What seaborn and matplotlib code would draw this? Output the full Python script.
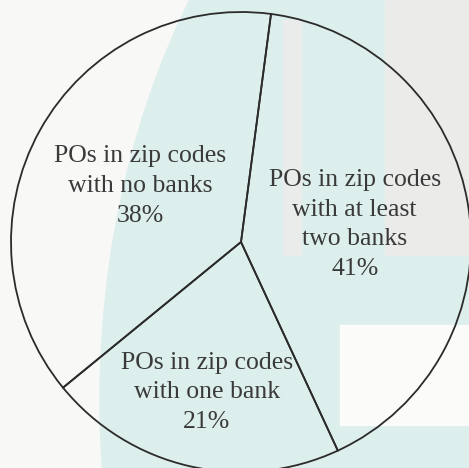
import numpy as np
import matplotlib
matplotlib.use("Agg")
import matplotlib.pyplot as plt
from matplotlib.patches import Ellipse, Rectangle
import seaborn as sns

# data
categories = ["POs in zip codes\nwith no banks",
              "POs in zip codes\nwith one bank",
              "POs in zip codes\nwith at least\ntwo banks"]
shares = [38, 21, 41]
label_radius = [0.50, 0.67, 0.50]

sns.set_theme(style="white")
plt.rcParams['font.family'] = ['Liberation Serif', 'DejaVu Serif']

W, H = 469, 468
fig = plt.figure(figsize=(W / 100, H / 100), dpi=100, facecolor="#f8f8f7")

# faded page background behind the pie
bg = fig.add_axes([0, 0, 1, 1])
bg.set_xlim(0, W)
bg.set_ylim(H, 0)
bg.axis("off")
bg.add_patch(Rectangle((200, 0), 269, 255, color="#ebebea", zorder=0))
bg.add_patch(Ellipse((600, 400), 1000, 1400, color="#ddefed", zorder=1))
bg.add_patch(Rectangle((283, 20), 18, 235, color="#e9ecea", zorder=2))
bg.add_patch(Rectangle((385, 0), 84, 255, color="#ebebea", zorder=2))
bg.add_patch(Rectangle((340, 325), 129, 100, color="#fbfbfa", zorder=2))

ax = fig.add_axes([0, 0, 1, 1])
ax.set_facecolor("none")
wedges, _ = ax.pie(shares, startangle=82.5, counterclock=True,
                   colors=["none"] * 3,
                   wedgeprops=dict(edgecolor="#2b2b2b", linewidth=1.3))

for w, lab, pct, r in zip(wedges, categories, shares, label_radius):
    mid = np.deg2rad((w.theta1 + w.theta2) / 2)
    ax.text(r * np.cos(mid), r * np.sin(mid), f"{lab}\n{pct}%",
            ha="center", va="center", fontsize=18.5, color="#3a3a3a",
            linespacing=1.45)

scale = 230
cx, cy = 241, 242
ax.set_xlim(-cx / scale, (W - cx) / scale)
ax.set_ylim(-(H - cy) / scale, cy / scale)
ax.set_aspect("auto")
ax.axis("off")

fig.savefig("out.png", dpi=100, facecolor=fig.get_facecolor())
